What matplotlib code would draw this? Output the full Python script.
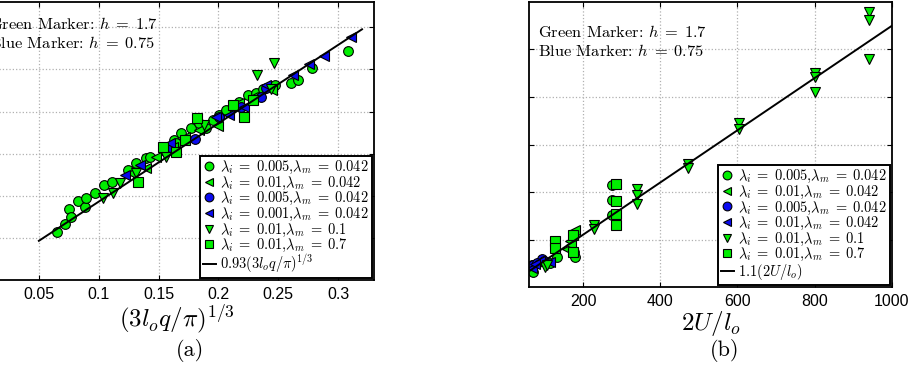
import matplotlib.pyplot as plt
import numpy as np

plt.rcParams['mathtext.fontset'] = 'cm'
plt.rcParams['font.family'] = ['cmr10', 'DejaVu Serif']
plt.rcParams['axes.formatter.use_mathtext'] = True

GREEN = '#00ee00'
BLUE = '#0a0af0'
TICKFONT = ['Liberation Sans Narrow', 'Liberation Sans']

# ---- panel (a): h vs (3 l_o q / pi)^(1/3) ----
a_circ_g_x = [0.0653, 0.0717, 0.075, 0.0772, 0.0828, 0.0883, 0.0892, 0.0972, 0.1042, 0.1114,
              0.1244, 0.1314, 0.1397, 0.1425, 0.1536, 0.1564, 0.1633, 0.1647, 0.1689, 0.1772,
              0.1842, 0.1897, 0.1953, 0.2008, 0.2064, 0.2119, 0.2175, 0.2244, 0.2314, 0.2369,
              0.2475, 0.2606, 0.2661, 0.2786, 0.3086]
a_circ_g_y = [0.0575, 0.0662, 0.084, 0.0753, 0.0938, 0.0871, 0.0978, 0.1029, 0.1128, 0.1167,
              0.1306, 0.1385, 0.1444, 0.1464, 0.1543, 0.1582, 0.1661, 0.1622, 0.174, 0.18,
              0.1859, 0.18, 0.1898, 0.1957, 0.2017, 0.2056, 0.2115, 0.2194, 0.2214, 0.2273,
              0.2313, 0.2344, 0.2372, 0.2518, 0.272]
a_ltri_g_x = [0.1272, 0.1397, 0.1481, 0.1619, 0.1717, 0.1842, 0.2, 0.2175, 0.2286, 0.2447]
a_ltri_g_y = [0.1266, 0.1325, 0.1464, 0.1582, 0.17, 0.178, 0.1831, 0.2096, 0.2175, 0.2254]
a_circ_b_x = [0.1592, 0.1808, 0.2008, 0.2189, 0.2356, 0.2397]
a_circ_b_y = [0.1582, 0.1669, 0.1938, 0.2056, 0.2175, 0.2285]
a_ltri_b_x = [0.1217, 0.1342, 0.1592, 0.1981, 0.2092, 0.2217, 0.2397, 0.2619, 0.2758, 0.2883, 0.3106]
a_ltri_b_y = [0.1246, 0.1365, 0.1622, 0.1938, 0.1957, 0.2056, 0.2313, 0.2431, 0.2562, 0.2656, 0.2885]
a_dtri_x = [0.1036, 0.1119, 0.1175, 0.1314, 0.1564, 0.1883, 0.2319, 0.2439, 0.2467]
a_dtri_y = [0.097, 0.1037, 0.1156, 0.1266, 0.1464, 0.1839, 0.2431, 0.2273, 0.2577]
a_sq_x = [0.1328, 0.1536, 0.1647, 0.1717, 0.1819, 0.2119, 0.2211, 0.2292]
a_sq_y = [0.1167, 0.1582, 0.1523, 0.1661, 0.1918, 0.2076, 0.1938, 0.2135]
a_fit_coef = 0.93
a_fit_range = [0.05, 0.32]

# ---- panel (b): h vs 2U/l_o ----
b_circ_g_x = [67, 70, 114, 132, 176, 179, 276, 276, 276]
b_circ_g_y = [92, 64, 100, 128, 149, 128, 428, 365, 305]
b_ltri_g_x = [158, 166, 175, 170, 180]
b_ltri_g_y = [162, 193, 232, 175, 240]
b_circ_b_x = [71, 93, 100, 82]
b_circ_b_y = [92, 120, 110, 100]
b_ltri_b_x = [68, 88, 115, 75]
b_ltri_b_y = [80, 110, 106, 95]
b_dtri_x = [102, 106, 229, 229, 339, 339, 339, 472, 472, 604, 604, 802, 802, 802, 940, 940, 940]
b_dtri_y = [85, 92, 260, 246, 414, 386, 351, 518, 500, 690, 665, 899, 886, 819, 1158, 1126, 961]
b_sq_x = [128, 128, 173, 173, 285, 285, 285, 285]
b_sq_y = [193, 163, 218, 149, 433, 361, 309, 260]
b_fit_coef = 1.1
b_fit_range = [60, 1000]

fig = plt.figure(figsize=(9.12, 3.69), dpi=100)
ax1 = fig.add_axes([-0.023, 0.2412, 0.4331, 0.7534])
ax2 = fig.add_axes([0.58, 0.2222, 0.398, 0.7724])

ms = 7
ekw = dict(markeredgecolor='black', markeredgewidth=0.8, linestyle='none')


def draw(ax, series, fit_x, fit_y, fit_label, note_x, note_y):
    for x, y, m, c, lab in series:
        ax.plot(x, y, marker=m, color=c, markersize=ms, label=lab, **ekw)
    ax.plot(fit_x, fit_y, color='black', lw=1.4, label=fit_label)
    ax.grid(True, linestyle=':', color='#b0b0b0', lw=0.9)
    ax.tick_params(direction='in', top=True, right=True, labelleft=False,
                   length=3.5, width=0.8, labelsize=11.5, pad=5)
    for s in ax.spines.values():
        s.set_linewidth(1.3)
    leg = ax.legend(loc='lower right', fontsize=10.4, borderaxespad=0.15,
                    handlelength=0.9, handletextpad=0.3, labelspacing=-0.1,
                    borderpad=0.2, fancybox=False, framealpha=1, markerscale=0.9)
    leg.get_frame().set_edgecolor('black')
    leg.get_frame().set_linewidth(1.4)
    ax.text(note_x, note_y[0], r'Green Marker: $h\;=\;1.7$', transform=ax.transAxes,
            fontsize=11.8, va='center')
    ax.text(note_x, note_y[1], r'Blue Marker: $h\;=\;0.75$', transform=ax.transAxes,
            fontsize=11.8, va='center')


lam = r'$\lambda_i\;=\;{}$,$\lambda_m\;=\;{}$'
draw(ax1, [
    (a_circ_g_x, a_circ_g_y, 'o', GREEN, lam.format('0.005', '0.042')),
    (a_ltri_g_x, a_ltri_g_y, '<', GREEN, lam.format('0.01', '0.042')),
    (a_circ_b_x, a_circ_b_y, 'o', BLUE, lam.format('0.005', '0.042')),
    (a_ltri_b_x, a_ltri_b_y, '<', BLUE, lam.format('0.001', '0.042')),
    (a_dtri_x, a_dtri_y, 'v', GREEN, lam.format('0.01', '0.1')),
    (a_sq_x, a_sq_y, 's', GREEN, lam.format('0.01', '0.7')),
], a_fit_range, [a_fit_coef * v for v in a_fit_range], r'$0.93(3l_oq/\pi)^{1/3}$',
    0.025, (0.921, 0.853))
ax1.set_xlim(0, 0.33)
ax1.set_ylim(0, 0.33)
ax1.set_xticks([0.05, 0.1, 0.15, 0.2, 0.25, 0.3])
ax1.set_xticklabels(['0.05', '0.1', '0.15', '0.2', '0.25', '0.3'], family=TICKFONT)
ax1.set_yticks([0.05, 0.1, 0.15, 0.2, 0.25, 0.3])
ax1.set_xlabel(r'$(3l_oq/\pi)^{1/3}$', fontsize=18, labelpad=0)

draw(ax2, [
    (b_circ_g_x, b_circ_g_y, 'o', GREEN, lam.format('0.005', '0.042')),
    (b_ltri_g_x, b_ltri_g_y, '<', GREEN, lam.format('0.01', '0.042')),
    (b_circ_b_x, b_circ_b_y, 'o', BLUE, lam.format('0.005', '0.042')),
    (b_ltri_b_x, b_ltri_b_y, '<', BLUE, lam.format('0.01', '0.042')),
    (b_dtri_x, b_dtri_y, 'v', GREEN, lam.format('0.01', '0.1')),
    (b_sq_x, b_sq_y, 's', GREEN, lam.format('0.01', '0.7')),
], b_fit_range, [b_fit_coef * v for v in b_fit_range], r'$1.1(2U/l_o)$',
    0.025, (0.895, 0.828))
ax2.set_xlim(60, 1000)
ax2.set_ylim(0, 1200)
ax2.set_xticks([200, 400, 600, 800, 1000])
ax2.set_xticklabels(['200', '400', '600', '800', '1000'], family=TICKFONT)
ax2.set_yticks([200, 400, 600, 800, 1000])
ax2.set_xlabel(r'$2U/l_o$', fontsize=18, labelpad=0)

fig.text(0.208, 0.05, '(a)', fontsize=16, ha='center', va='center')
fig.text(0.795, 0.05, '(b)', fontsize=16, ha='center', va='center')

fig.savefig('out.png', dpi=100)
